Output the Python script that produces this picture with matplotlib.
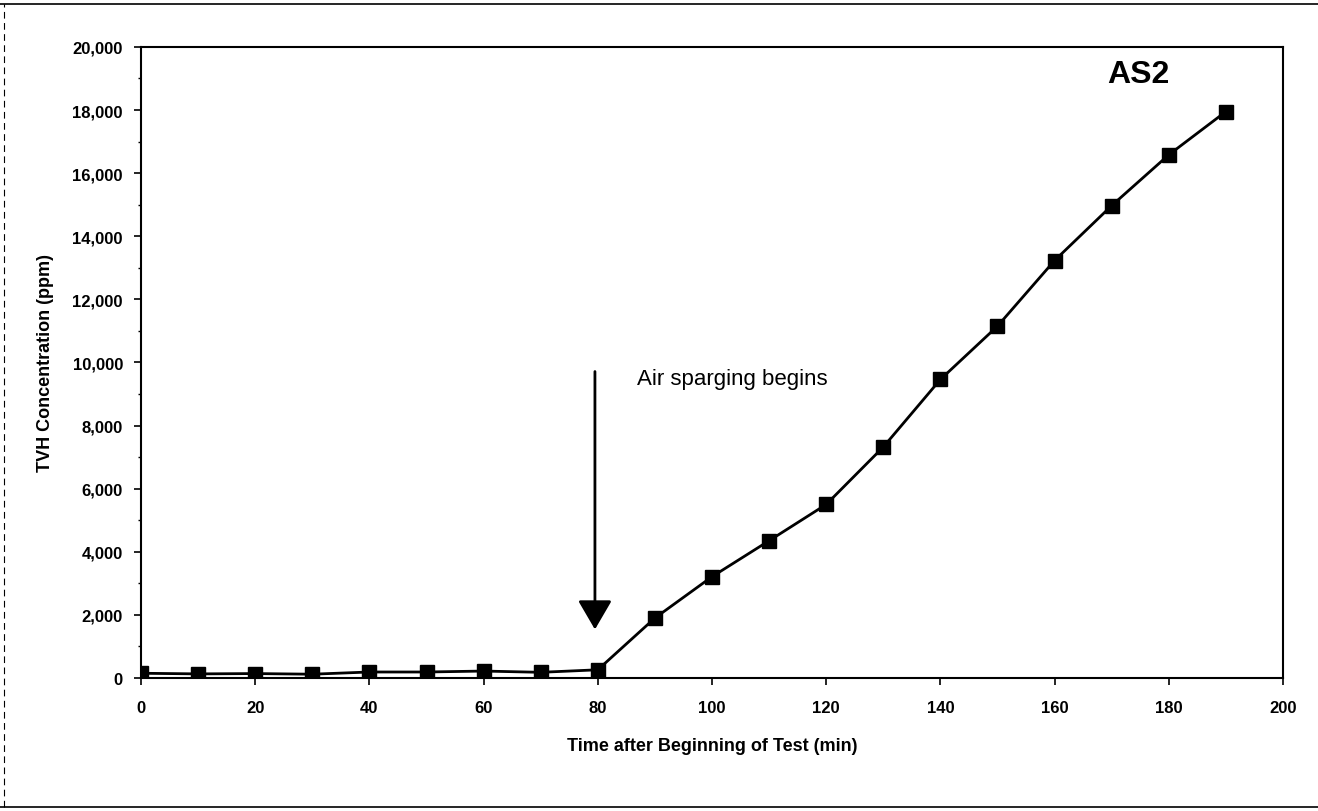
#TVH concentration during air sparging test (AS2)

import numpy as np
import matplotlib
matplotlib.use("Agg")
import matplotlib.pyplot as plt
from matplotlib.ticker import FuncFormatter, MultipleLocator
from matplotlib.lines import Line2D

plt.rcParams['font.family'] = ['Liberation Sans', 'DejaVu Sans']

#data
time_min = [0, 10, 20, 30, 40, 50, 60, 70, 80, 90, 100, 110, 120, 130, 140, 150, 160, 170, 180, 190]
tvh_ppm = [150, 130, 140, 120, 190, 190, 220, 180, 260, 1900, 3210, 4350, 5500, 7320, 9460,
           11150, 13230, 14970, 16580, 17950]

x_ticks = [0, 20, 40, 60, 80, 100, 120, 140, 160, 180, 200]
y_ticks = [0, 2000, 4000, 6000, 8000, 10000, 12000, 14000, 16000, 18000, 20000]

fig = plt.figure(figsize=(13.18, 8.12), dpi=100)
ax = fig.add_axes([0.107, 0.1638, 0.8664, 0.7772])

ax.plot(time_min, tvh_ppm, color='black', lw=2.0, marker='s', markersize=10,
        markerfacecolor='black', markeredgecolor='black')

ax.set_xlim(0, 200)
ax.set_ylim(0, 20000)
ax.set_xticks(x_ticks)
ax.set_yticks(y_ticks)
ax.yaxis.set_minor_locator(MultipleLocator(1000))
ax.yaxis.set_major_formatter(FuncFormatter(lambda v, p: "{:,}".format(int(v))))

ax.tick_params(axis='both', which='major', direction='out', length=5, width=1.2,
               labelsize=12)
ax.tick_params(axis='x', which='major', pad=11)
ax.tick_params(axis='y', which='major', pad=8)
ax.tick_params(axis='y', which='minor', direction='out', length=2, width=1)
for lab in ax.get_xticklabels() + ax.get_yticklabels():
    lab.set_fontweight('bold')

for s in ax.spines.values():
    s.set_linewidth(1.5)

ax.set_xlabel("Time after Beginning of Test (min)", fontsize=13, fontweight='bold', labelpad=16)
ax.set_ylabel("TVH Concentration (ppm)", fontsize=13, fontweight='bold', labelpad=13)

#arrow marking start of sparging
ax.annotate("", xy=(79.5, 1450), xytext=(79.5, 9800),
            arrowprops=dict(arrowstyle="-|>,head_length=1.8,head_width=1.05",
                            color='black', lw=2))
ax.text(86.8, 9480, "Air sparging begins", fontsize=16, va='center', ha='left')
ax.text(169.2, 19150, "AS2", fontsize=23, fontweight='bold', va='center', ha='left')

#scan page border lines
fig.add_artist(Line2D([0, 1], [0.994, 0.994], transform=fig.transFigure, color='black', lw=1.2))
fig.add_artist(Line2D([0, 1], [0.005, 0.005], transform=fig.transFigure, color='black', lw=1.2))
fig.add_artist(Line2D([0.003, 0.003], [0.005, 0.994], transform=fig.transFigure, color='black',
                      lw=0.8, ls=(0, (6, 4))))

fig.savefig("out.png", dpi=100)
